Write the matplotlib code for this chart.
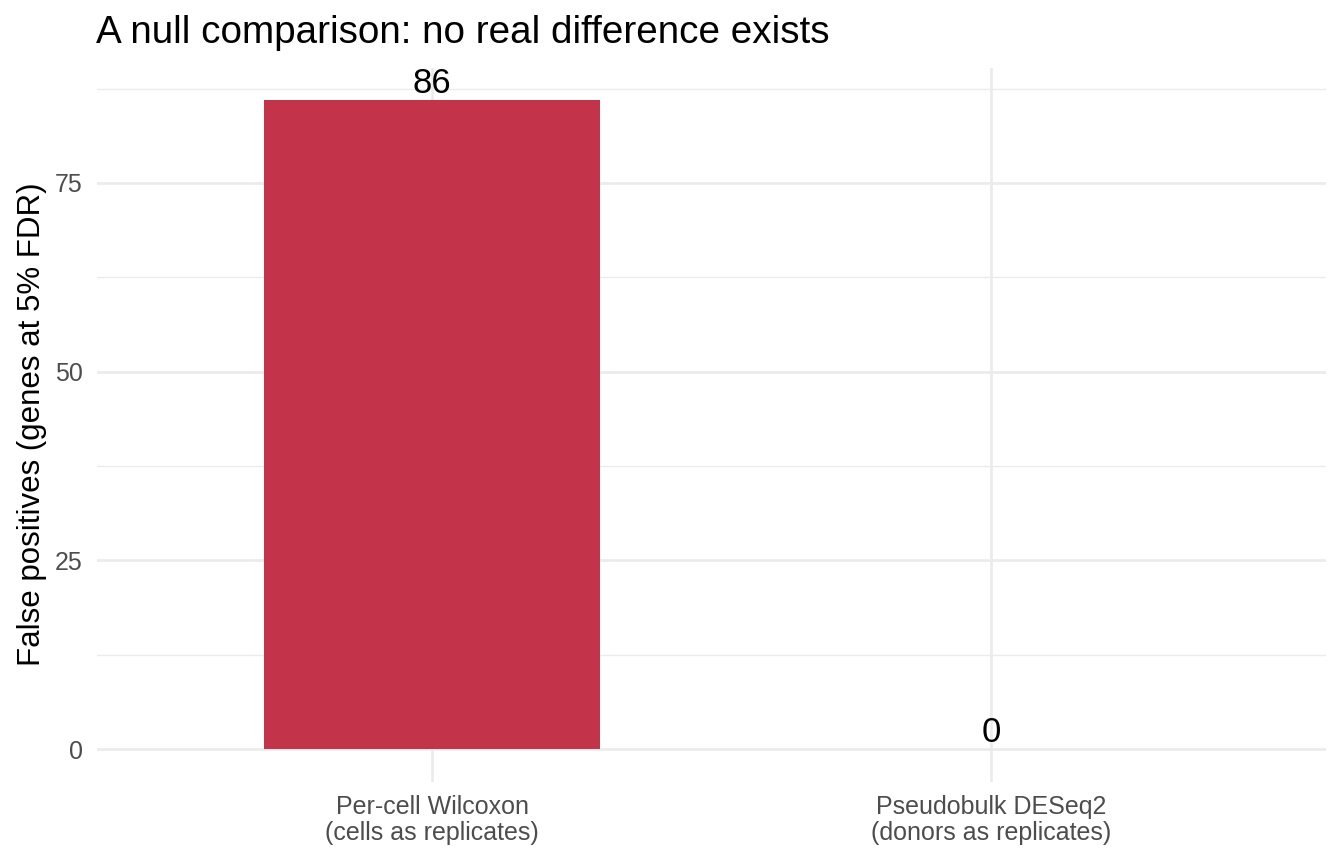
import numpy as np
import matplotlib
matplotlib.use("Agg")
from matplotlib import pyplot as plt
from matplotlib.ticker import MultipleLocator

categories = ["Per-cell Wilcoxon\n(cells as replicates)",
              "Pseudobulk DESeq2\n(donors as replicates)"]
false_positives = [86, 0]
yticks = [0, 25, 50, 75]

plt.rcParams['font.family'] = ['Liberation Sans', 'DejaVu Sans']

fig = plt.figure(figsize=(13.44, 8.64), dpi=100)
ax = fig.add_axes([96.6 / 1344, 1 - 781.5 / 864, (1326.4 - 96.6) / 1344, (781.5 - 67.5) / 864])

x = np.arange(1, len(categories) + 1)
ax.bar(x, false_positives, width=0.6, color="#C3334A", zorder=2)
for xi, v in zip(x, false_positives):
    ax.annotate(str(v), (xi, v), xytext=(0, 5), textcoords="offset points",
                ha="center", va="baseline", fontsize=25, color="black", zorder=3)

top = max(false_positives)
ax.set_xlim(0.4, len(categories) + 0.6)
ax.set_ylim(-0.05 * top, top * 1.05)
ax.set_xticks(x)
ax.set_xticklabels(categories, fontsize=18, color="#4D4D4D", linespacing=1.1)
ax.set_yticks(yticks)
ax.set_yticklabels([str(t) for t in yticks], fontsize=18, color="#4D4D4D")
ax.yaxis.set_minor_locator(MultipleLocator(12.5))

ax.grid(True, which="major", color="#EBEBEB", linewidth=1.9, zorder=0)
ax.grid(True, which="minor", axis="y", color="#EBEBEB", linewidth=1.0, zorder=0)
ax.tick_params(axis="y", which="both", length=0, pad=10)
ax.tick_params(axis="x", which="both", length=0, pad=10)
for s in ax.spines.values():
    s.set_visible(False)
ax.set_axisbelow(True)

ax.set_ylabel("False positives (genes at 5% FDR)", fontsize=22.5, labelpad=6)
fig.text(96 / 1344, 1 - 43 / 864, "A null comparison: no real difference exists",
         fontsize=27.8, ha="left", va="baseline")

fig.savefig("out.png", dpi=100)
